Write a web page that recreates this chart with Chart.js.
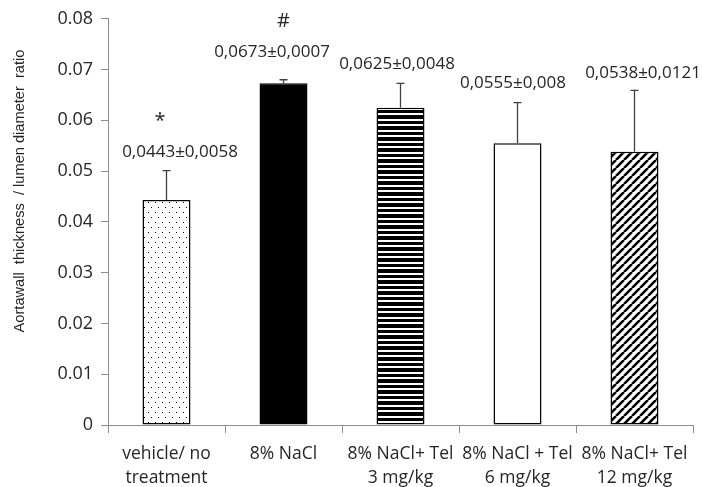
<!DOCTYPE html>
<html>
<head>
<meta charset="utf-8">
<script src="https://cdn.jsdelivr.net/npm/chart.js@4.4.1/dist/chart.umd.min.js"></script>
<style>
  html, body { margin: 0; padding: 0; background: #fff; }
  #caixa { width: 702px; height: 487px; }
</style>
</head>
<body>
<div id="caixa"><canvas id="grafico"></canvas></div>
<script>
// dados
const categorias = [
  ['vehicle/ no', 'treatment'],
  '8% NaCl',
  ['8% NaCl+ Tel', '3 mg/kg'],
  ['8% NaCl + Tel', '6 mg/kg'],
  ['8% NaCl+ Tel', '12 mg/kg']
];
const medias = [0.0443, 0.0673, 0.0625, 0.0555, 0.0538];
const desvios = [0.0058, 0.0007, 0.0048, 0.008, 0.0121];
const marcas = ['*', '#', '', '', ''];
const ticksY = [0, 0.01, 0.02, 0.03, 0.04, 0.05, 0.06, 0.07, 0.08];
const tituloY = 'Aortawall  thickness  / lumen diameter  ratio';

const fonte = "'Open Sans', 'DejaVu Sans', sans-serif";
const fonteTitulo = "'Liberation Sans Narrow', 'Liberation Sans', Arial, sans-serif";
const cinzaEixo = '#8c8c8c';

// padrões de preenchimento das barras
function criarPadrao(tipo) {
  const c = document.createElement('canvas');
  const g = c.getContext('2d');
  if (tipo === 'pontos') {
    c.width = 7; c.height = 10;
    g.fillStyle = '#fff'; g.fillRect(0, 0, 7, 10);
    g.fillStyle = '#000';
    g.fillRect(1, 2, 1, 1);
    g.fillRect(4, 7, 1, 1);
  } else if (tipo === 'listras') {
    c.width = 4; c.height = 11;
    g.fillStyle = '#fff'; g.fillRect(0, 0, 4, 11);
    g.fillStyle = '#000';
    g.fillRect(0, 0, 4, 3);
    g.fillRect(0, 5, 4, 4);
  } else if (tipo === 'diagonal') {
    c.width = 8; c.height = 8;
    g.fillStyle = '#fff'; g.fillRect(0, 0, 8, 8);
    g.strokeStyle = '#000'; g.lineWidth = 2.6;
    for (const d of [-8, 0, 8]) {
      g.beginPath();
      g.moveTo(d, 8);
      g.lineTo(d + 8, 0);
      g.stroke();
    }
  }
  return g.createPattern(c, 'repeat');
}

const preenchimentos = [
  criarPadrao('pontos'),
  '#000000',
  criarPadrao('listras'),
  '#ffffff',
  criarPadrao('diagonal')
];

// barras de erro (só para cima)
const barrasErro = {
  id: 'barrasErro',
  afterDatasetsDraw(chart) {
    const { ctx, scales } = chart;
    const meta = chart.getDatasetMeta(0);
    ctx.save();
    ctx.strokeStyle = '#404040';
    ctx.lineWidth = 1.3;
    meta.data.forEach((barra, i) => {
      const yTopo = scales.y.getPixelForValue(medias[i] + desvios[i]);
      ctx.beginPath();
      ctx.moveTo(barra.x, barra.y);
      ctx.lineTo(barra.x, yTopo);
      ctx.moveTo(barra.x - 4, yTopo);
      ctx.lineTo(barra.x + 4, yTopo);
      ctx.stroke();
    });
    ctx.restore();
  }
};

// rótulos de média ± desvio e marcas de significância
const rotulos = {
  id: 'rotulos',
  afterDraw(chart, args, opts) {
    const { ctx, scales } = chart;
    const meta = chart.getDatasetMeta(0);
    ctx.save();
    ctx.textAlign = 'center';
    ctx.textBaseline = 'middle';
    ctx.fillStyle = '#262626';
    meta.data.forEach((barra, i) => {
      const yTopo = scales.y.getPixelForValue(medias[i] + desvios[i]);
      const texto = String(medias[i]).replace('.', ',') + '±' + String(desvios[i]).replace('.', ',');
      ctx.font = '17px ' + fonte;
      ctx.fillText(texto, barra.x + opts.dx[i], yTopo - opts.dy[i]);
      if (marcas[i]) {
        ctx.font = '20px ' + fonte;
        ctx.fillText(marcas[i], barra.x + opts.dxMarca[i], yTopo - opts.dyMarca[i]);
      }
    });
    // título do eixo y, ajustado ao comprimento do original (~283px)
    ctx.font = '15px ' + fonteTitulo;
    const larg = ctx.measureText(tituloY).width;
    ctx.font = (15 * 283 / larg).toFixed(2) + 'px ' + fonteTitulo;
    ctx.translate(20, 191);
    ctx.rotate(-Math.PI / 2);
    ctx.fillText(tituloY, 0, 0);
    ctx.restore();
  }
};

const ctx = document.getElementById('grafico').getContext('2d');
new Chart(ctx, {
  type: 'bar',
  data: {
    labels: categorias,
    datasets: [{
      data: medias,
      backgroundColor: preenchimentos,
      borderColor: '#000',
      borderWidth: 1.5,
      borderSkipped: false,
      barPercentage: 0.41,
      categoryPercentage: 1
    }]
  },
  options: {
    responsive: true,
    maintainAspectRatio: false,
    animation: false,
    layout: { padding: { top: 18, right: 9, left: 0, bottom: 0 } },
    plugins: {
      legend: { display: false },
      tooltip: { enabled: false },
      rotulos: {
        dx: [13.5, -11.5, -3.5, -4.5, 8.5],
        dy: [18, 28, 19, 19, 17],
        dxMarca: [-6.5, 0, 0, 0, 0],
        dyMarca: [49, 58, 0, 0, 0]
      }
    },
    scales: {
      x: {
        offset: true,
        grid: {
          offset: true,
          drawOnChartArea: false,
          drawTicks: true,
          tickLength: 8,
          color: cinzaEixo
        },
        border: { display: true, color: cinzaEixo, width: 1 },
        ticks: {
          autoSkip: false,
          maxRotation: 0,
          minRotation: 0,
          padding: 9,
          color: '#262626',
          font: { family: fonte, size: 17.5, lineHeight: 1.37 }
        },
        afterFit: s => { s.height = 62; }
      },
      y: {
        min: 0,
        max: 0.08,
        afterBuildTicks: s => { s.ticks = ticksY.map(v => ({ value: v })); },
        grid: {
          drawOnChartArea: false,
          drawTicks: true,
          tickLength: 7,
          color: cinzaEixo
        },
        border: { display: true, color: cinzaEixo, width: 1 },
        ticks: {
          padding: 8,
          color: '#262626',
          font: { family: fonte, size: 18 },
          callback: v => v === 0 ? '0' : v.toFixed(2)
        },
        afterFit: s => { s.width = 108; }
      }
    }
  },
  plugins: [barrasErro, rotulos]
});
</script>
</body>
</html>
